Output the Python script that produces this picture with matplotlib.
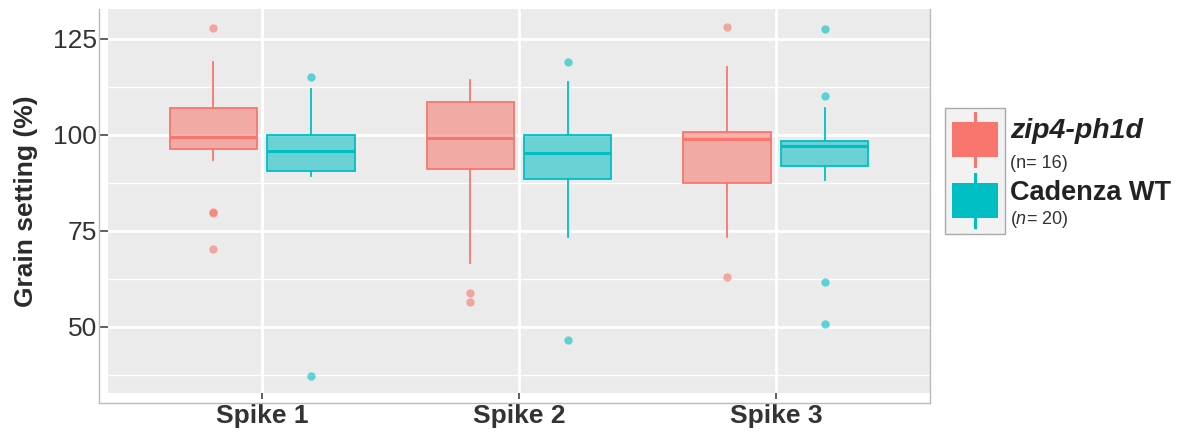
import matplotlib
matplotlib.use("Agg")
import matplotlib.pyplot as plt
from matplotlib.lines import Line2D
from matplotlib.patches import Rectangle
import numpy as np

plt.rcParams['font.family'] = ['Liberation Sans', 'DejaVu Sans']
plt.rcParams['mathtext.fontset'] = 'custom'
plt.rcParams['mathtext.rm'] = 'Liberation Sans'
plt.rcParams['mathtext.it'] = 'Liberation Sans:italic'

# categories and groups
spikes = ['Spike 1', 'Spike 2', 'Spike 3']
groups = ['zip4-ph1d', 'Cadenza WT']
group_n = ['(n= 16)', r'($\mathit{n}$= 20)']
colors = ['#F8766D', '#00BFC4']

# box summaries, one list per group, one value per spike
mut_whislo = [93.5, 66.6, 73.4]
mut_q1 = [96.4, 91.1, 87.6]
mut_med = [99.4, 99.1, 99.0]
mut_q3 = [107.1, 108.5, 100.7]
mut_whishi = [119.1, 114.3, 117.8]
mut_fliers = [[127.9, 80.0, 79.6, 70.2], [58.8, 56.6], [128.2, 63.1]]

wt_whislo = [89.4, 73.4, 88.3]
wt_q1 = [90.6, 88.5, 92.0]
wt_med = [95.9, 95.4, 97.2]
wt_q3 = [100.0, 100.0, 98.5]
wt_whishi = [111.9, 113.9, 107.0]
wt_fliers = [[115.2, 37.3], [119.1, 46.6], [127.5, 110.2, 61.8, 50.8]]

yticks = [50, 75, 100, 125]
yminor = [37.5, 62.5, 87.5, 112.5]

W, H = 1183, 434
fig = plt.figure(figsize=(W / 100, H / 100), dpi=100)


def fx(x):
    return x / W


def fy(y):
    return 1 - y / H


ax = fig.add_axes([fx(108), fy(393), fx(930) - fx(108), fy(9) - fy(393)])
ax.set_facecolor('#EBEBEB')
for s in ax.spines.values():
    s.set_visible(False)

ax.set_xlim(0.4, 3.6)
ax.set_ylim(32.8, 132.8)
ax.set_yticks(yticks)
ax.set_yticks(yminor, minor=True)
ax.set_xticks(np.arange(1, len(spikes) + 1))
ax.set_xticklabels(spikes, fontweight='bold', fontsize=19)
ax.tick_params(axis='y', which='major', labelsize=19, length=6, width=1.1,
               color='#333333', labelcolor='#333333', pad=2)
ax.tick_params(axis='y', which='minor', length=0)
ax.tick_params(axis='x', length=4, width=1.1, color='#333333',
               labelcolor='#333333', pad=4)
ax.grid(True, which='major', color='white', linewidth=2.0)
ax.grid(True, which='minor', axis='y', color='white', linewidth=1.0)
ax.set_axisbelow(True)
ax.set_ylabel('Grain setting (%)', fontsize=19, fontweight='bold',
              color='#2B2B2B', labelpad=11)

summaries = [
    (mut_whislo, mut_q1, mut_med, mut_q3, mut_whishi, mut_fliers),
    (wt_whislo, wt_q1, wt_med, wt_q3, wt_whishi, wt_fliers),
]
offsets = [-0.19, 0.19]
for gi, (wlo, q1, med, q3, whi, fl) in enumerate(summaries):
    stats = []
    for i in range(len(spikes)):
        stats.append(dict(whislo=wlo[i], q1=q1[i], med=med[i], q3=q3[i],
                          whishi=whi[i], fliers=fl[i]))
    c = colors[gi]
    ax.bxp(stats, positions=np.arange(1, len(spikes) + 1) + offsets[gi],
           widths=0.34, patch_artist=True, showcaps=False, manage_ticks=False,
           boxprops=dict(facecolor=matplotlib.colors.to_rgba(c, 0.55),
                         edgecolor=c, linewidth=1.3),
           whiskerprops=dict(color=c, linewidth=1.3),
           medianprops=dict(color=c, linewidth=2.2),
           flierprops=dict(marker='o', markerfacecolor=c, markeredgecolor='none',
                           markersize=6, alpha=0.6))

# outer frame lines
frame = '#BBBBBB'
fig.add_artist(Line2D([fx(99), fx(99)], [fy(9), fy(403)], color=frame, lw=1))
fig.add_artist(Line2D([fx(99), fx(930)], [fy(403), fy(403)], color=frame, lw=1))
fig.add_artist(Line2D([fx(930), fx(930)], [fy(9), fy(403)], color=frame, lw=1))

# legend
fig.add_artist(Rectangle((fx(945), fy(234)), fx(1005) - fx(945), fy(108) - fy(234),
                         facecolor='#F2F2F2', edgecolor='#AAAAAA', lw=1))
key_tops = [122, 183]
for gi in range(2):
    t = key_tops[gi]
    fig.add_artist(Line2D([fx(975), fx(975)], [fy(t - 9), fy(t + 44)],
                          color=colors[gi], lw=2.2))
    fig.add_artist(Rectangle((fx(952), fy(t + 35)), fx(998) - fx(952), fy(t) - fy(t + 35),
                             facecolor=colors[gi], edgecolor='none'))
fig.text(fx(1010), fy(131), groups[0], fontsize=20.5, fontweight='bold',
         fontstyle='italic', color='#222222', va='center')
fig.text(fx(1010), fy(163), group_n[0], fontsize=13, color='#333333', va='center')
fig.text(fx(1010), fy(193), groups[1], fontsize=19.5, fontweight='bold',
         color='#222222', va='center')
fig.text(fx(1010), fy(219), group_n[1], fontsize=13, color='#333333', va='center')

fig.savefig('out.png', dpi=100)
